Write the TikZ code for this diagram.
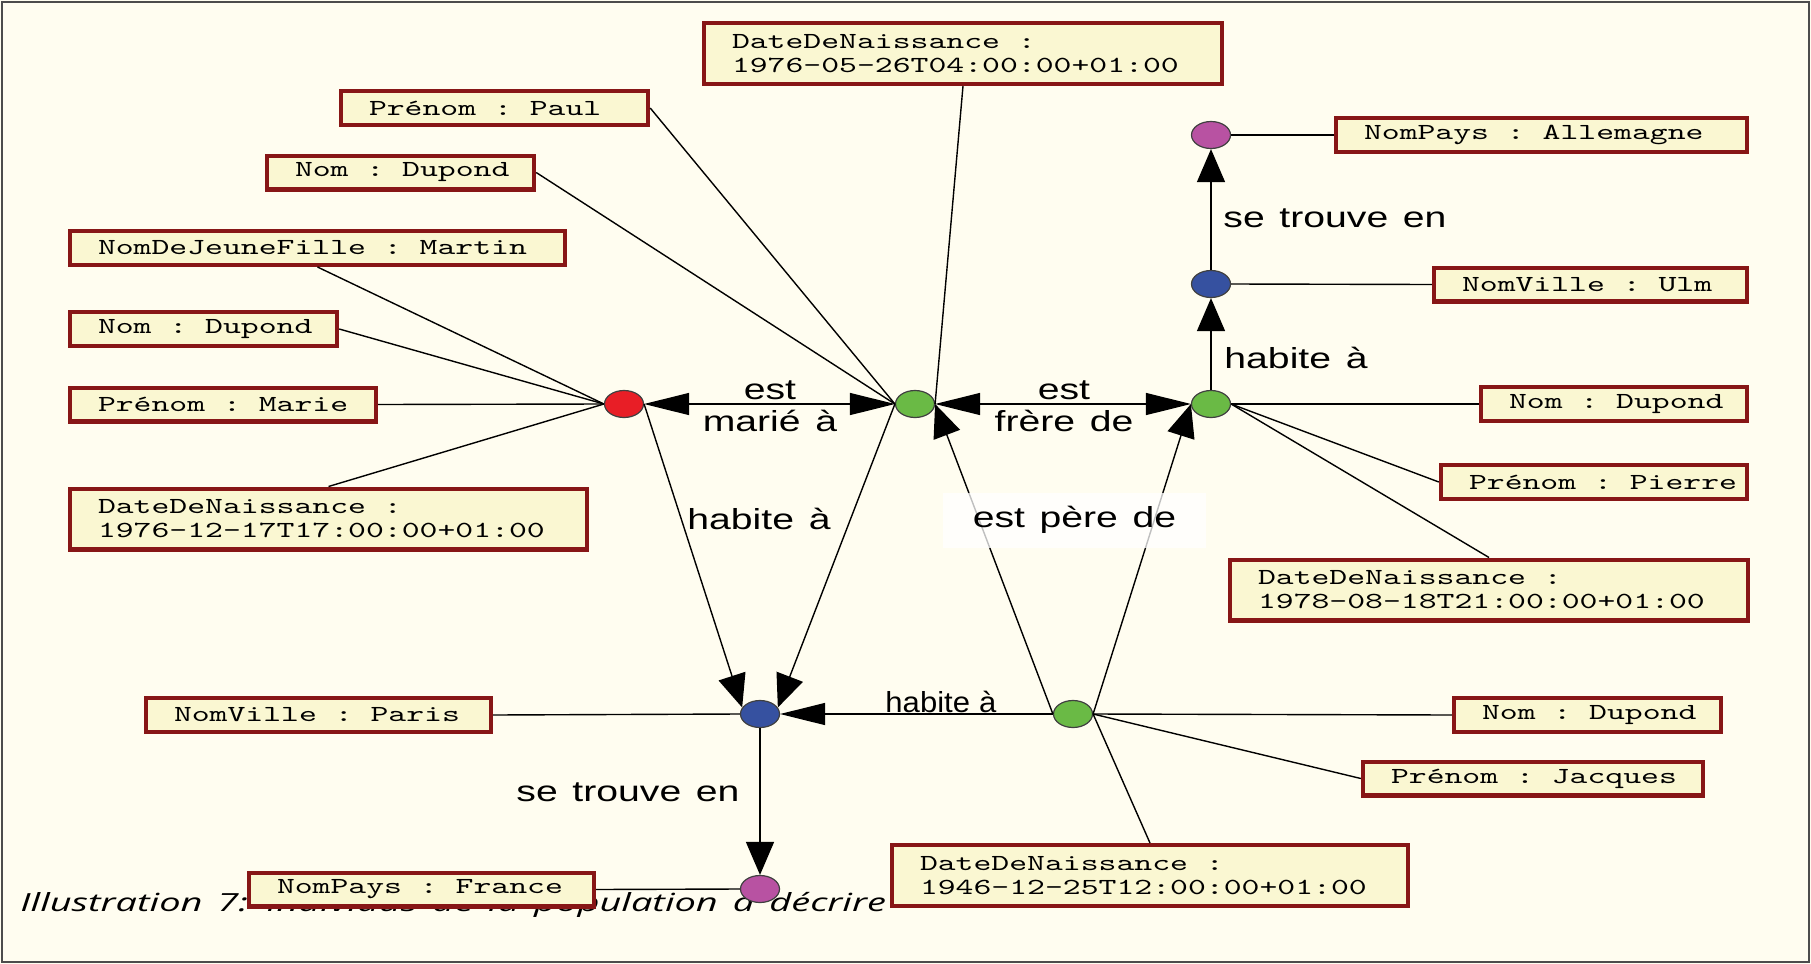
\documentclass[tikz,border=0pt]{standalone}
\usepackage{fontspec}
\usetikzlibrary{arrows.meta,shapes.geometric}
\newfontfamily\attrfont[FakeStretch=1.48]{lmmono10-regular.otf}
\newfontfamily\relfont[FakeStretch=1.35,WordSpace=1.35]{Liberation Sans}
\newfontfamily\relnarrowfont[FakeStretch=1.07,WordSpace=1.07]{Liberation Sans}
\newfontfamily\capfont[FakeStretch=1.52,WordSpace=1.52]{Open Sans}
\newcommand{\attrsp}{\hspace*{8.94pt}}
\definecolor{bgcream}{RGB}{255,253,240}
\definecolor{boxfill}{RGB}{250,247,210}
\definecolor{boxred}{RGB}{135,22,22}
\definecolor{nodered}{RGB}{232,30,38}
\definecolor{nodegreen}{RGB}{106,186,69}
\definecolor{nodeblue}{RGB}{54,81,160}
\definecolor{nodepurple}{RGB}{184,82,162}
\tikzset{
  attr/.style={draw=boxred,fill=boxfill,line width=2.2pt,inner xsep=14pt,inner ysep=0pt,minimum height=16.8pt,align=left,font=\attrfont\fontsize{11.5pt}{12pt}\selectfont},
  datebox/.style={attr,minimum height=30.3pt},
  indiv/.style={ellipse,draw=black!75,line width=0.6pt,minimum width=19.5pt,minimum height=13.5pt,inner sep=0pt},
  rel/.style={font=\relfont\fontsize{14.5pt}{16pt}\selectfont,align=center,inner sep=0pt},
  link/.style={line width=0.7pt},
  harrow/.style={link,-{Triangle[length=22.5pt,width=11pt]}},
  dharrow/.style={link,{Triangle[length=22.5pt,width=11pt]}-{Triangle[length=22.5pt,width=11pt]}},
  varrow/.style={link,-{Triangle[length=16.5pt,width=14pt]}}
}
\begin{document}
\begin{tikzpicture}[x=0.5pt,y=-0.5pt]
	\useasboundingbox (0,0) rectangle (1811,964);
	\fill[bgcream] (0,0) rectangle (1811,964);
	\draw[gray!60!black,line width=1pt] (2,2) rectangle (1809,962);
	\node[anchor=base west,inner sep=0pt,font=\capfont\itshape\fontsize{12.5pt}{14pt}\selectfont] (legende) at (20,911) {Illustration 7: Individus de la population à décrire};
	\node[indiv,fill=nodered] (marie) at (624,404) {};
	\node[indiv,fill=nodegreen] (paul) at (915,404) {};
	\node[indiv,fill=nodegreen] (pierre) at (1211,404) {};
	\node[indiv,fill=nodeblue] (ulm) at (1211,284) {};
	\node[indiv,fill=nodepurple] (allemagne) at (1211,135) {};
	\node[indiv,fill=nodeblue] (paris) at (760,714) {};
	\node[indiv,fill=nodepurple] (france) at (760,889) {};
	\node[indiv,fill=nodegreen] (jacques) at (1073,714) {};
	\node[attr,text width=125.5pt] (prenomPaul) at (494.5,108) {Prénom\attrsp:\attrsp Paul};
	\node[attr,text width=105.5pt] (nomPaul) at (400.5,172.5) {Nom\attrsp:\attrsp Dupond};
	\node[datebox,text width=231pt] (datePaul) at (963,53.5) {DateDeNaissance\attrsp:\\1976-05-26T04:00:00+01:00};
	\node[attr,text width=219.5pt] (jeuneFille) at (317.5,248) {NomDeJeuneFille\attrsp:\attrsp Martin};
	\node[attr,text width=105.5pt] (nomMarie) at (203.5,329) {Nom\attrsp:\attrsp Dupond};
	\node[attr,text width=125pt] (prenomMarie) at (223,404.5) {Prénom\attrsp:\attrsp Marie};
	\node[datebox,text width=230.5pt] (dateMarie) at (328.5,519) {DateDeNaissance\attrsp:\\1976-12-17T17:00:00+01:00};
	\node[attr,text width=177.5pt] (paysAllemagne) at (1541.5,135) {NomPays\attrsp:\attrsp Allemagne};
	\node[attr,text width=128.5pt] (villeUlm) at (1590.5,284.5) {NomVille\attrsp:\attrsp Ulm};
	\node[attr,text width=105pt] (nomPierre) at (1614,404) {Nom\attrsp:\attrsp Dupond};
	\node[attr,text width=125pt] (prenomPierre) at (1594,482) {Prénom\attrsp:\attrsp Pierre};
	\node[datebox,text width=231pt] (datePierre) at (1489,590) {DateDeNaissance\attrsp:\\1978-08-18T21:00:00+01:00};
	\node[attr,text width=144.5pt] (villeParis) at (318.5,715) {NomVille\attrsp:\attrsp Paris};
	\node[attr,text width=144.5pt] (paysFrance) at (421.5,889.5) {NomPays\attrsp:\attrsp France};
	\node[attr,text width=105.5pt] (nomJacques) at (1587.5,715) {Nom\attrsp:\attrsp Dupond};
	\node[attr,text width=142pt] (prenomJacques) at (1533,778.5) {Prénom\attrsp:\attrsp Jacques};
	\node[datebox,text width=230pt] (dateJacques) at (1150,875.5) {DateDeNaissance\attrsp:\\1946-12-25T12:00:00+01:00};
	\foreach \a in {jeuneFille.south,nomMarie.east,prenomMarie.east,dateMarie.north}\draw[link] (marie.west)--(\a);
	\foreach \a in {prenomPaul.east,nomPaul.east}\draw[link] (paul.west)--(\a);
	\draw[link] (paul.east)--(datePaul.south);
	\foreach \a in {nomPierre.west,prenomPierre.west,datePierre.north}\draw[link] (pierre.east)--(\a);
	\foreach \a in {nomJacques.west,prenomJacques.west,dateJacques.north}\draw[link] (jacques.east)--(\a);
	\draw[link] (ulm.east)--(villeUlm.west);
	\draw[link] (allemagne.east)--(paysAllemagne.west);
	\draw[link] (paris.west)--(villeParis.east);
	\draw[link] (france.west)--(paysFrance.east);
	\draw[dharrow] (marie.east)--(paul.west);
	\draw[dharrow] (paul.east)--(pierre.west);
	\draw[varrow] (pierre.north)--(ulm.south);
	\draw[varrow] (ulm.north)--(allemagne.south);
	\draw[varrow] (marie.east)--(paris.160);
	\draw[varrow] (paul.west)--(paris.20);
	\draw[harrow] (jacques.west)--(paris.east);
	\draw[varrow] (jacques.west)--(paul.east);
	\draw[varrow] (jacques.east)--(pierre.west);
	\draw[varrow] (paris.south)--(france.north);
	\node[rel] (lblMarie) at (770,406) {est\\marié à};
	\node[rel] (lblFrere) at (1064,406) {est\\frère de};
	\node[rel,anchor=base] (lblHabMarie) at (759,529) {habite à};
	\node[rel,anchor=base] (lblHabPierre) at (1296,368) {habite à};
	\node[rel,anchor=base,font=\relnarrowfont\fontsize{14.5pt}{16pt}\selectfont] (lblHabJacques) at (941,712) {habite à};
	\node[rel,anchor=base] (lblTrouveUlm) at (1335,227) {se trouve en};
	\node[rel,anchor=base] (lblTrouveParis) at (628,801) {se trouve en};
	\node[rel,fill=white,fill opacity=0.75,text opacity=1,minimum width=131.5pt,minimum height=27.5pt] (lblPere) at (1074.5,520) {est père de};
\end{tikzpicture}
\end{document}
